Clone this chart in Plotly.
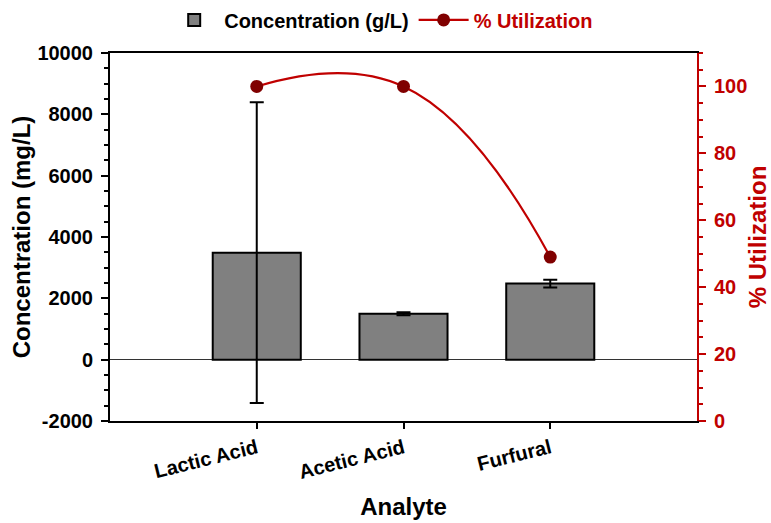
import plotly.graph_objects as go

# Analyte measurements
analytes = ["Lactic Acid", "Acetic Acid", "Furfural"]
concentration = [3490, 1500, 2480]       # mg/L
concentration_err = [4900, 50, 130]      # mg/L, symmetric
utilization = [100, 100, 49]             # %

# Left axis tick values and labels (plain hyphen for negatives)
conc_ticks = [-2000, 0, 2000, 4000, 6000, 8000, 10000]
conc_tick_labels = ["-2000", "0", "2000", "4000", "6000", "8000", "10000"]

RED = "#c00000"
DARK_RED = "#800000"
FONT = "Liberation Sans, Arial, sans-serif"

fig = go.Figure()

fig.add_trace(go.Bar(
    x=analytes,
    y=concentration,
    name="Concentration (g/L)",
    width=0.6,
    marker=dict(color="#808080", line=dict(color="black", width=2)),
    error_y=dict(type="data", array=concentration_err, visible=True,
                 color="black", thickness=2, width=7),
    yaxis="y",
))

fig.add_trace(go.Scatter(
    x=analytes,
    y=utilization,
    name=f"<span style='color:{RED}'>% Utilization</span>",
    mode="lines+markers",
    line=dict(color=RED, width=2.2, shape="spline", smoothing=1.3),
    marker=dict(color=DARK_RED, size=13),
    yaxis="y2",
))

fig.update_layout(
    width=771,
    height=523,
    margin=dict(l=110, r=74, t=53, b=102, autoexpand=False),
    paper_bgcolor="white",
    plot_bgcolor="white",
    font=dict(family=FONT, size=20, color="black", weight=700),
    showlegend=True,
    legend=dict(
        orientation="h",
        xref="paper", yref="paper",
        x=0.462, xanchor="center",
        y=1.09, yanchor="middle",
        font=dict(size=20, weight=700),
        itemwidth=50,
        traceorder="normal",
        bgcolor="rgba(0,0,0,0)",
    ),
    xaxis=dict(
        range=[-1, 3],
        automargin=False,
        showline=True, linecolor="black", linewidth=2, mirror=True,
        ticks="outside", ticklen=6, tickwidth=2, tickcolor="black",
        tickangle=-14,
        tickfont=dict(size=20, weight=700),
        title=dict(text="Analyte", font=dict(size=24, weight=700), standoff=16),
        showgrid=False,
    ),
    yaxis=dict(
        range=[-2000, 10000],
        automargin=False,
        tickvals=conc_ticks,
        ticktext=conc_tick_labels,
        showline=True, linecolor="black", linewidth=2,
        ticks="outside", ticklen=7, tickwidth=2, tickcolor="black",
        ticklabelstandoff=4,
        minor=dict(dtick=500, tick0=0, ticks="outside", ticklen=4, tickwidth=1.5,
                   tickcolor="black", showgrid=False),
        tickfont=dict(size=20, weight=700),
        title=dict(text="Concentration (mg/L)", font=dict(size=24, weight=700),
                   standoff=0),
        showgrid=False,
        zeroline=True, zerolinecolor="#333333", zerolinewidth=1.2,
    ),
    yaxis2=dict(
        range=[0, 110],
        dtick=20,
        automargin=False,
        overlaying="y", side="right",
        showline=True, linecolor=RED, linewidth=2,
        ticks="outside", ticklen=7, tickwidth=2, tickcolor=RED,
        ticklabelstandoff=4,
        minor=dict(dtick=5, ticks="outside", ticklen=4, tickwidth=1.5,
                   tickcolor=RED, showgrid=False),
        tickfont=dict(size=20, color=RED, weight=700),
        title=dict(text="% Utilization", font=dict(size=24, color=RED, weight=700),
                   standoff=8),
        showgrid=False,
        zeroline=False,
    ),
)

fig.write_html("out.html")
